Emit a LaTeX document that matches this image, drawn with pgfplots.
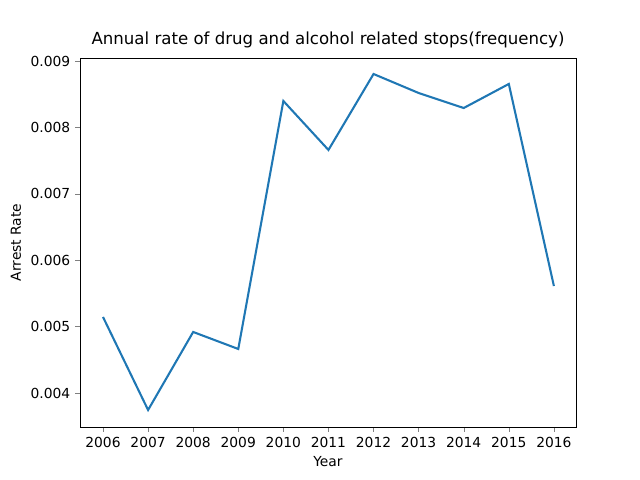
\documentclass[border=0pt]{standalone}
\usepackage{fontspec}
\setmainfont{DejaVu Sans}
\usepackage{pgfplots}
\pgfplotsset{compat=1.18}
\definecolor{mplblue}{HTML}{1F77B4}
\begin{document}
\begin{tikzpicture}
\path[use as bounding box] (-0.80in,-0.53in) rectangle (5.60in,4.27in);
\begin{axis}[
  at={(0,0)}, anchor=south west,
  scale only axis, width=4.96in, height=3.69in,
  xmin=2005.49, xmax=2016.49, ymin=0.003488, ymax=0.009045,
  xtick={2006,...,2016},
  xticklabel style={/pgf/number format/1000 sep={}},
  ytick={0.004,0.005,0.006,0.007,0.008,0.009},
  yticklabel style={/pgf/number format/.cd,fixed,precision=3,zerofill},
  scaled y ticks=false,
  /pgf/number format/assume math mode=true,
  tick align=outside, tick pos=left,
  major tick length=3.5pt,
  ticklabel style={font=\fontsize{10}{12}\selectfont},
  xlabel={Year}, ylabel={Arrest Rate},
  label style={font=\fontsize{10}{12}\selectfont},
  title={Annual rate of drug and alcohol related stops(frequency)},
  title style={font=\fontsize{12}{14}\selectfont, yshift=-2pt},
]
\addplot[mplblue, line width=1.5pt, mark=none] coordinates {
(2006,0.005145) (2007,0.003744) (2008,0.004919) (2009,0.004663)
(2010,0.008398) (2011,0.00766) (2012,0.008804) (2013,0.008518)
(2014,0.008292) (2015,0.008654) (2016,0.005611)};
\end{axis}
\end{tikzpicture}
\end{document}
